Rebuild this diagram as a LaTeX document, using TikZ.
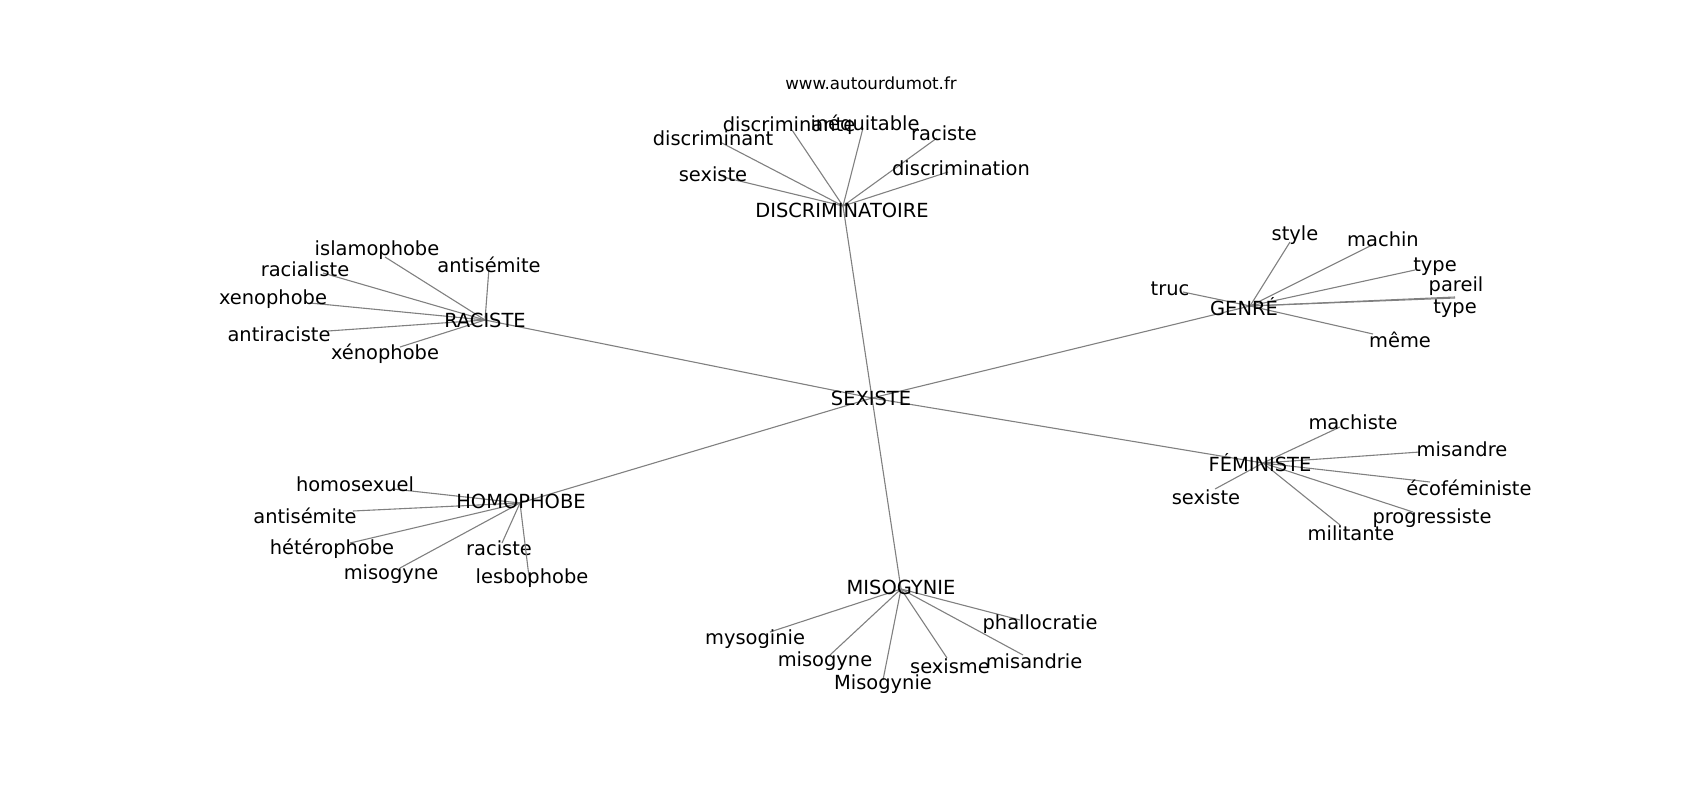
\documentclass[tikz,border=0pt]{standalone}
\usepackage{fontspec}
\setmainfont{DejaVu Sans}
\tikzset{
  edge/.style={draw=gray, line width=1.1pt},
  lbl/.style={inner sep=0pt, outer sep=0pt, text=black, font=\fontsize{19.44pt}{23pt}\selectfont},
  leaflbl/.style={lbl, yshift=-1.5pt},
  urlstyle/.style={inner sep=0pt, text=black, font=\fontsize{16.67pt}{20pt}\selectfont}
}
\newcommand{\leaf}[5]{%
  \coordinate (#2e) at (#3);
  \draw[edge] (#1) -- (#2e);
  \node[leaflbl] (#2) at (#4) {#5};
}
\begin{document}
\begin{tikzpicture}[x=1pt,y=-1pt]
\useasboundingbox (0,0) rectangle (1700,800);
% hubs
\coordinate (hS) at (872,398);
\coordinate (hD) at (843,206);
\coordinate (hR) at (485,320);
\coordinate (hG) at (1250,306);
\coordinate (hF) at (1263,463);
\coordinate (hH) at (520,503);
\coordinate (hM) at (901,589);
\draw[edge] (hS) -- (hD);
\draw[edge] (hS) -- (hR);
\draw[edge] (hS) -- (hG);
\draw[edge] (hS) -- (hF);
\draw[edge] (hS) -- (hH);
\draw[edge] (hS) -- (hM);
% DISCRIMINATOIRE
\leaf{hD}{d1}{792,130}{789,123}{discriminante}
\leaf{hD}{d2}{863,128}{865,123}{inéquitable}
\leaf{hD}{d3}{720,142}{713,137}{discriminant}
\leaf{hD}{d4}{723,177}{713,173}{sexiste}
\leaf{hD}{d5}{937,138}{944,132}{raciste}
\leaf{hD}{d6}{948,172}{961,167}{discrimination}
% RACISTE
\leaf{hR}{r1}{385,257}{377,249}{islamophobe}
\leaf{hR}{r2}{489,268}{489,263}{antisémite}
\leaf{hR}{r3}{323,273}{305,268}{racialiste}
\leaf{hR}{r4}{310,303}{273,298}{xenophobe}
\leaf{hR}{r5}{328,331}{279,333}{antiraciste}
\leaf{hR}{r6}{400,347}{385,352}{xénophobe}
% GENRE
\leaf{hG}{g1}{1290,242}{1295,234}{style}
\leaf{hG}{g2}{1372,245}{1383,238}{machin}
\leaf{hG}{g3}{1183,292}{1170,287}{truc}
\leaf{hG}{g4}{1415,270}{1435,265}{type}
\leaf{hG}{g5}{1455,298}{1456,285}{pareil}
\leaf{hG}{g6}{1455,297}{1455,307}{type}
\leaf{hG}{g7}{1373,334}{1400,338}{même}
% FEMINISTE
\leaf{hF}{f1}{1340,427}{1353,421}{machiste}
\leaf{hF}{f2}{1420,452}{1462,448}{misandre}
\leaf{hF}{f3}{1430,482}{1469,486}{écoféministe}
\leaf{hF}{f4}{1413,512}{1432,517}{progressiste}
\leaf{hF}{f5}{1340,525}{1351,532}{militante}
\leaf{hF}{f6}{1215,489}{1206,496}{sexiste}
% HOMOPHOBE
\leaf{hH}{h1}{393,489}{355,483}{homosexuel}
\leaf{hH}{h2}{353,511}{305,514}{antisémite}
\leaf{hH}{h3}{350,543}{332,547}{hétérophobe}
\leaf{hH}{h4}{400,568}{391,573}{misogyne}
\leaf{hH}{h5}{502,543}{499,547}{raciste}
\leaf{hH}{h6}{530,585}{532,577}{lesbophobe}
% MISOGYNIE
\leaf{hM}{m1}{770,632}{755,638}{mysoginie}
\leaf{hM}{m2}{830,655}{825,660}{misogyne}
\leaf{hM}{m3}{883,680}{883,683}{Misogynie}
\leaf{hM}{m4}{947,658}{950,665}{sexisme}
\leaf{hM}{m5}{1023,655}{1034,660}{misandrie}
\leaf{hM}{m6}{1020,620}{1040,623}{phallocratie}
% hub labels
\node[lbl] (sexiste) at (871,398) {SEXISTE};
\node[lbl] (discr) at (842,210) {DISCRIMINATOIRE};
\node[lbl] (raciste) at (485,320) {RACISTE};
\node[lbl] (genre) at (1244,307) {GENRÉ};
\node[lbl] (feministe) at (1260,463) {FÉMINISTE};
\node[lbl] (homophobe) at (521,501) {HOMOPHOBE};
\node[lbl] (misogynie) at (901,587) {MISOGYNIE};
\node[urlstyle] (url) at (871,83) {www.autourdumot.fr};
\end{tikzpicture}
\end{document}
